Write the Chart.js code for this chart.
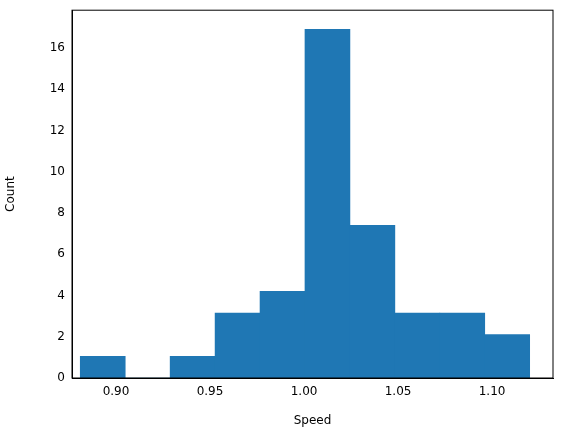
<!DOCTYPE html>
<html>
<head>
<script src="https://cdn.jsdelivr.net/npm/chart.js@4"></script>
<style>
html, body { margin: 0; padding: 0; background: #fff; }
#wrap { width: 563px; height: 432px; }
</style>
</head>
<body>
<div id="wrap"><canvas id="hist"></canvas></div>
<script>
const binStart = 0.881;
const binWidth = 0.0239;
const counts = [1.05, 0, 1.05, 3.15, 4.2, 16.9, 7.4, 3.15, 3.15, 2.1];
const xTicks = [0.90, 0.95, 1.00, 1.05, 1.10];
const yTicks = [0, 2, 4, 6, 8, 10, 12, 14, 16];

const points = counts.map((c, i) => ({ x: binStart + binWidth * (i + 0.5), y: c }));
const font = { family: 'DejaVu Sans', size: 12 };

new Chart(document.getElementById('hist').getContext('2d'), {
    type: 'bar',
    data: {
        datasets: [{
            data: points,
            backgroundColor: '#1f77b4',
            borderWidth: 0,
            barPercentage: 1,
            categoryPercentage: 1
        }]
    },
    options: {
        responsive: true,
        maintainAspectRatio: false,
        animation: false,
        layout: { padding: { top: 8, right: 10, left: 0, bottom: 0 } },
        plugins: { legend: { display: false }, tooltip: { enabled: false } },
        scales: {
            x: {
                type: 'linear',
                min: 0.8766,
                max: 1.1324,
                offset: false,
                grid: { display: false, tickLength: 4 },
                border: { color: '#000' },
                afterBuildTicks: axis => { axis.ticks = xTicks.map(v => ({ value: v })); },
                afterFit: axis => { axis.height = 54; },
                ticks: { color: '#000', font: font, callback: v => v.toFixed(2) },
                title: { display: true, text: 'Speed', color: '#000', font: font }
            },
            y: {
                min: 0,
                max: 17.83,
                grid: { display: false, tickLength: 4 },
                border: { color: '#000' },
                afterBuildTicks: axis => { axis.ticks = yTicks.map(v => ({ value: v })); },
                afterFit: axis => { axis.width = 72; },
                ticks: { color: '#000', font: font },
                title: { display: true, text: 'Count', color: '#000', font: font }
            }
        }
    },
    plugins: [{
        id: 'frame',
        afterDraw(chart) {
            const { ctx, chartArea: a } = chart;
            ctx.save();
            ctx.strokeStyle = '#000';
            ctx.lineWidth = 1;
            ctx.strokeRect(a.left, a.top, a.right - a.left, a.bottom - a.top);
            ctx.restore();
        }
    }]
});
</script>
</body>
</html>
